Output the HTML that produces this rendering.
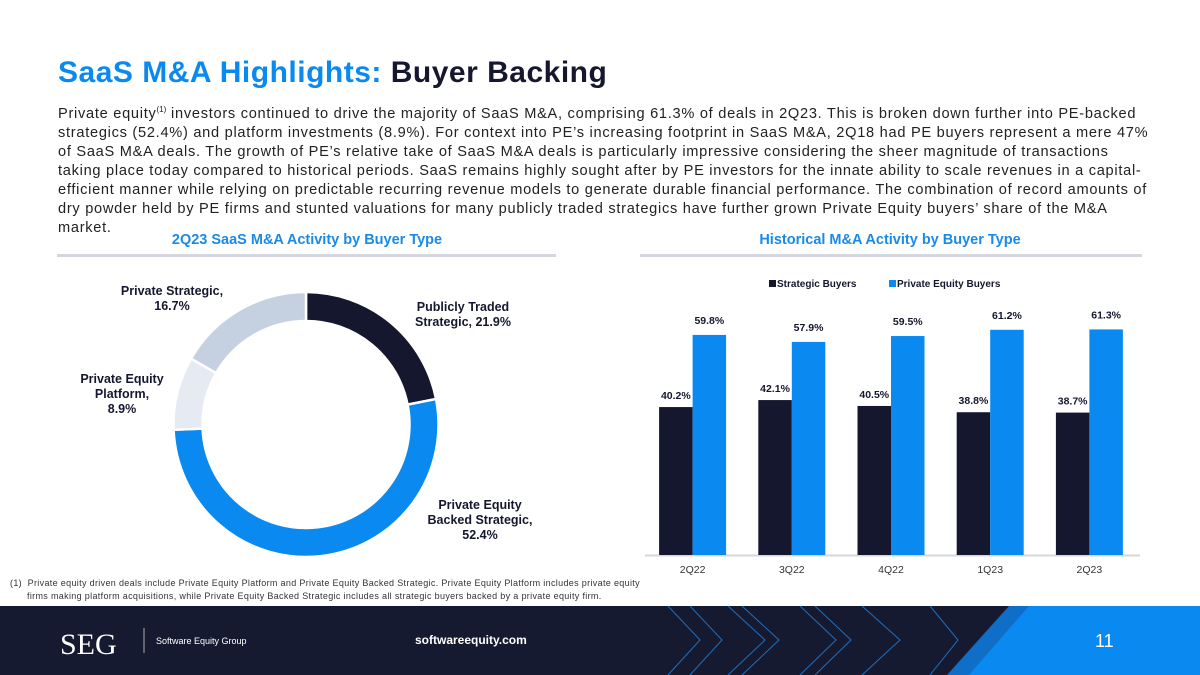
<!DOCTYPE html>
<html><head><meta charset="utf-8"><style>
body{margin:0;width:1200px;height:675px;position:relative;background:#fff;font-family:"Liberation Sans",sans-serif;overflow:hidden}
.abs{position:absolute}
#title{left:58px;top:56px;font-size:30px;letter-spacing:0.5px;font-weight:bold;color:#0a8af0;white-space:nowrap}
#title span{color:#15172f}
#para{left:58px;top:100px;font-size:14.6px;line-height:19px;color:#222;white-space:nowrap;letter-spacing:0.72px}
#para sup{font-size:8px;letter-spacing:0}
.sec{font-size:14.5px;font-weight:bold;color:#1a8ae8;text-align:center}
.rule{height:3px;background:#d4d7df}
</style></head><body>
<div id="title" class="abs">SaaS M&amp;A Highlights: <span>Buyer Backing</span></div>
<div id="para" class="abs">Private equity<sup>(1)</sup> investors continued to drive the majority of SaaS M&amp;A, comprising 61.3% of deals in 2Q23. This is broken down further into PE-backed<br>strategics (52.4%) and platform investments (8.9%). For context into PE’s increasing footprint in SaaS M&amp;A, 2Q18 had PE buyers represent a mere 47%<br>of SaaS M&amp;A deals. The growth of PE’s relative take of SaaS M&amp;A deals is particularly impressive considering the sheer magnitude of transactions<br>taking place today compared to historical periods. SaaS remains highly sought after by PE investors for the innate ability to scale revenues in a capital-<br>efficient manner while relying on predictable recurring revenue models to generate durable financial performance. The combination of record amounts of<br>dry powder held by PE firms and stunted valuations for many publicly traded strategics have further grown Private Equity buyers’ share of the M&amp;A<br>market.</div>
<div class="abs sec" style="left:57px;top:232px;width:500px">2Q23 SaaS M&amp;A Activity by Buyer Type</div>
<div class="abs rule" style="left:57px;top:254px;width:499px"></div>
<div class="abs sec" style="left:640px;top:232px;width:500px">Historical M&amp;A Activity by Buyer Type</div>
<div class="abs rule" style="left:640px;top:254px;width:502px"></div>

<svg class="abs" style="left:0;top:0" width="1200" height="675" id="charts">
<g id="donut"></g>
<g id="bars"></g>
</svg>

<div class="abs" style="left:10px;top:577px;font-size:9px;line-height:12.5px;color:#333;letter-spacing:0.33px;white-space:nowrap">(1)&nbsp; Private equity driven deals include Private Equity Platform and Private Equity Backed Strategic. Private Equity Platform includes private equity<br>&nbsp;&nbsp;&nbsp;&nbsp;&nbsp; firms making platform acquisitions, while Private Equity Backed Strategic includes all strategic buyers backed by a private equity firm.</div>

<svg class="abs" style="left:0;top:606px" width="1200" height="69">
<rect width="1200" height="69" fill="#161a30"/>
<g stroke="#1e6fc0" stroke-width="1" fill="none">
<polyline points="668,0 700,34 668,69"/><polyline points="690,0 722,34 690,69"/>
<polyline points="728,0 765,34 728,69"/><polyline points="742,0 779,34 742,69"/>
<polyline points="800,0 836,34 800,69"/><polyline points="815,0 851,34 815,69"/>
<polyline points="862,0 900,34 862,69"/><polyline points="930,0 958,34 930,69"/>
</g>
<polygon points="1009,0 1200,0 1200,69 947,69" fill="#0f6fc8"/>
<polygon points="1029,0 1200,0 1200,69 969,69" fill="#0a8af0"/>
<text x="60" y="48" font-family="Liberation Serif,serif" font-size="30" fill="#fff">SEG</text>
<line x1="144" y1="22" x2="144" y2="47" stroke="#aaa" stroke-width="1"/>
<text x="156" y="38" font-size="9" fill="#fff">Software Equity Group</text>
<text x="415" y="38" font-size="12" font-weight="bold" fill="#fff">softwareequity.com</text>
<text x="1095" y="41" font-size="18" fill="#fff">11</text>
</svg>

<script>
const NS="http://www.w3.org/2000/svg";
function mk(tag,attrs,parent){const e=document.createElementNS(NS,tag);for(const k in attrs)e.setAttribute(k,attrs[k]);parent.appendChild(e);return e;}

// Donut data
const sliceLabels=["Publicly Traded Strategic","Private Equity Backed Strategic","Private Equity Platform","Private Strategic"];
const sliceValues=[21.9,52.4,8.9,16.7];
const sliceColors=["#15172f","#0a8af0","#e6eaf2","#c5d0e0"];

// Bar data
const quarters=["2Q22","3Q22","4Q22","1Q23","2Q23"];
const strategicVals=[40.2,42.1,40.5,38.8,38.7];
const peVals=[59.8,57.9,59.5,61.2,61.3];

// Donut
const dg=document.getElementById('donut');
const cx=306,cy=424.5,R=132.5,r=103.5;
const total=sliceValues.reduce((a,b)=>a+b,0);
let ang=0;
sliceValues.forEach((v,i)=>{
  const a0=ang/total*2*Math.PI, a1=(ang+v)/total*2*Math.PI; ang+=v;
  const p=(a,rad)=>[cx+rad*Math.sin(a),cy-rad*Math.cos(a)];
  const large=(a1-a0)>Math.PI?1:0;
  const [x0,y0]=p(a0,R),[x1,y1]=p(a1,R),[x2,y2]=p(a1,r),[x3,y3]=p(a0,r);
  const path=mk('path',{d:`M${x0},${y0}A${R},${R} 0 ${large} 1 ${x1},${y1}L${x2},${y2}A${r},${r} 0 ${large} 0 ${x3},${y3}Z`,fill:sliceColors[i],stroke:"#fff","stroke-width":2.5},dg);
  
  
});
const dLabels=[
 {x:463,y:311,lines:["Publicly Traded","Strategic, "+sliceValues[0]+"%"]},
 {x:480,y:509,lines:["Private Equity","Backed Strategic,",sliceValues[1]+"%"]},
 {x:122,y:383,lines:["Private Equity","Platform,",sliceValues[2]+"%"]},
 {x:172,y:295,lines:["Private Strategic,",sliceValues[3]+"%"]}
];
dLabels.forEach((L,i)=>{
  const t=mk('text',{x:L.x,y:L.y,"text-anchor":"middle","font-size":12.5,"font-weight":"bold",fill:"#15172f","font-family":"Liberation Sans,sans-serif"},dg);
  
  
  L.lines.forEach((ln,j)=>{const s=mk('tspan',{x:L.x,dy:j?15:0},t);s.textContent=ln;});
});

// Bars
const bg=document.getElementById('bars');
const base=555, pxPer=3.68, x0=643, step=99.2, bw=33.5;
const yS=v=>base-v*pxPer;
const cxOf=i=>x0+step*(i+0.5);
mk('line',{x1:645,y1:base+0.5,x2:1140,y2:base+0.5,stroke:"#d4d7df","stroke-width":2},bg);
quarters.forEach((q,i)=>{
  const c=cxOf(i);
  const b1=mk('rect',{x:c-bw,y:yS(strategicVals[i]),width:bw,height:strategicVals[i]*pxPer,fill:"#15172f"},bg);
  
  
  const b2=mk('rect',{x:c,y:yS(peVals[i]),width:bw,height:peVals[i]*pxPer,fill:"#0a8af0"},bg);
  
  
  const t1=mk('text',{x:c-bw/2,y:yS(strategicVals[i])-8,"text-anchor":"middle","font-size":10.5,"font-weight":"bold",fill:"#15172f"},bg);
  t1.textContent=strategicVals[i].toFixed(1)+"%";
  
  
  const t2=mk('text',{x:c+bw/2,y:yS(peVals[i])-11,"text-anchor":"middle","font-size":10.5,"font-weight":"bold",fill:"#15172f"},bg);
  t2.textContent=peVals[i].toFixed(1)+"%";
  
  
  const t3=mk('text',{x:c,y:573,"text-anchor":"middle","font-size":10.5,fill:"#333"},bg);
  t3.textContent=q;
  
  
});
// legend
const lg=mk('g',{},bg);


mk('rect',{x:769,y:280,width:7,height:7,fill:"#15172f"},lg);
const l1=mk('text',{x:777,y:287,"font-size":10,"font-weight":"bold",fill:"#15172f"},lg);l1.textContent="Strategic Buyers";
mk('rect',{x:889,y:280,width:7,height:7,fill:"#0a8af0"},lg);
const l2=mk('text',{x:897,y:287,"font-size":10,"font-weight":"bold",fill:"#15172f"},lg);l2.textContent="Private Equity Buyers";
</script>
</body></html>
